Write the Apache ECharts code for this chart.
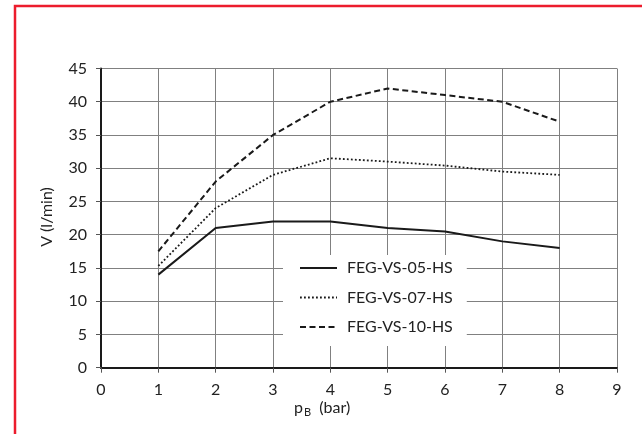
<!DOCTYPE html>
<html>
<head>
<meta charset="utf-8">
<script src="https://cdn.jsdelivr.net/npm/echarts@6/dist/echarts.min.js"></script>
<style>html,body{margin:0;padding:0;background:#fff}#c{width:642px;height:434px}</style>
</head>
<body>
<div id="c"></div>
<script>
var xValues = [1, 2, 3, 4, 5, 6, 7, 8];
var seriesNames = ['FEG-VS-05-HS', 'FEG-VS-07-HS', 'FEG-VS-10-HS'];
var vs05 = [14, 21, 22, 22, 21, 20.5, 19, 18];
var vs07 = [15.3, 24, 29, 31.5, 31, 30.4, 29.5, 29];
var vs10 = [17.5, 28, 35, 40, 42, 41, 40, 37];
var yTitle = 'V (l/min)';

function pairs(vals) { return xValues.map(function (x, i) { return [x, vals[i]]; }); }

var FONT = 'Lato';
var chart = echarts.init(document.getElementById('c'), null, { renderer: 'canvas' });
chart.setOption({
  animation: false,
  backgroundColor: '#fff',
  textStyle: { fontFamily: FONT },
  grid: { left: 101, right: 25, top: 68.5, bottom: 66.3 },
  xAxis: {
    type: 'value', min: 0, max: 9, interval: 1,
    axisLine: { show: true, onZero: false, lineStyle: { color: '#1a1a1a', width: 2 } },
    axisTick: { show: true, length: 5, lineStyle: { color: '#555', width: 1 } },
    axisLabel: { margin: 14, fontSize: 16, color: '#222', fontFamily: FONT },
    splitLine: { show: true, lineStyle: { color: '#808080', width: 1 } }
  },
  yAxis: {
    type: 'value', min: 0, max: 45, interval: 5,
    axisLine: { show: true, lineStyle: { color: '#1a1a1a', width: 2 } },
    axisTick: { show: true, length: 5, lineStyle: { color: '#555', width: 1 } },
    axisLabel: { margin: 14, fontSize: 16, color: '#222', fontFamily: FONT },
    splitLine: { show: true, lineStyle: { color: '#808080', width: 1 } }
  },
  legend: {
    orient: 'vertical', left: 283, top: 255,
    backgroundColor: '#fff',
    padding: [5, 14, 11, 16],
    itemWidth: 37, itemHeight: 14, itemGap: 13.5,
    itemStyle: { opacity: 0 },
    textStyle: { fontSize: 16, color: '#222', fontFamily: FONT, padding: [0, 0, 0, 5] },
    data: seriesNames
  },
  graphic: [
    { type: 'rect', silent: true, z: 100, shape: { x: 15, y: 6, width: 700, height: 500 },
      style: { fill: 'none', stroke: '#ec1c2d', lineWidth: 2.5 } },
    { type: 'text', x: 47, y: 217, rotation: Math.PI / 2, z: 50,
      style: { text: yTitle, fontSize: 16, fontFamily: FONT, fill: '#222',
               align: 'center', verticalAlign: 'middle' } },
    { type: 'text', left: 294, top: 400, z: 50,
      style: { text: '{a|p}{b|B}{a|  (bar)}', rich: {
        a: { fontSize: 16, fontFamily: FONT, fill: '#222' },
        b: { fontSize: 11, fontFamily: FONT, fill: '#222', padding: [9, 0, 0, 1] }
      } } }
  ],
  series: [
    { name: seriesNames[0], type: 'line', data: pairs(vs05), symbol: 'none', z: 5,
      lineStyle: { color: '#1a1a1a', width: 2, type: 'solid' }, itemStyle: { color: '#1a1a1a' } },
    { name: seriesNames[1], type: 'line', data: pairs(vs07), symbol: 'none', z: 5,
      lineStyle: { color: '#1a1a1a', width: 1.8, type: [1.8, 2.2] }, itemStyle: { color: '#1a1a1a' } },
    { name: seriesNames[2], type: 'line', data: pairs(vs10), symbol: 'none', z: 5,
      lineStyle: { color: '#1a1a1a', width: 2, type: [6, 3.5] }, itemStyle: { color: '#1a1a1a' } }
  ]
});
</script>
</body>
</html>
